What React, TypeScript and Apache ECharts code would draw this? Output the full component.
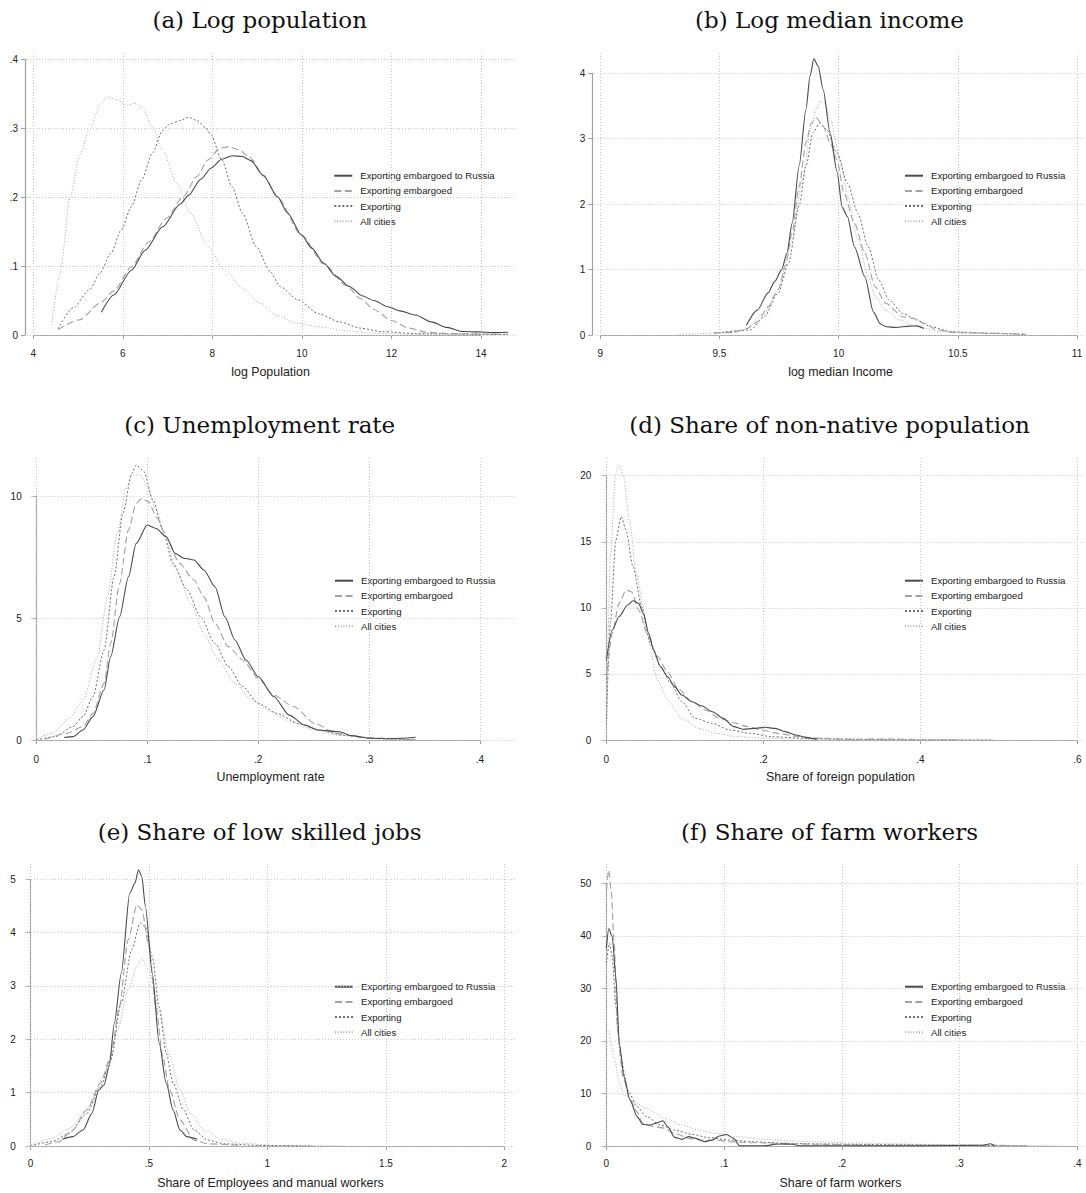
import React, { useEffect, useRef } from "react";
import * as echarts from "echarts";

const SERIES_NAMES = ["Exporting embargoed to Russia", "Exporting embargoed", "Exporting", "All cities"];

// (a) Log population
const popTitle = "(a) Log population";
const popXTitle = "log Population";
const popTicksX = [4, 6, 8, 10, 12, 14];
const popTicksY = [0, 0.1, 0.2, 0.3, 0.4];
const popRussia = [[5.52,0.033],[5.8,0.058],[6.19,0.094],[6.5,0.123],[6.89,0.157],[7.28,0.19],[7.47,0.203],[7.74,0.226],[7.97,0.242],[8.21,0.255],[8.44,0.26],[8.67,0.259],[8.86,0.253],[9.14,0.231],[9.45,0.201],[9.68,0.177],[9.99,0.145],[10.22,0.126],[10.49,0.104],[10.76,0.085],[11.07,0.07],[11.34,0.057],[11.61,0.05],[11.92,0.041],[12.19,0.035],[12.54,0.029],[12.89,0.019],[13.24,0.011],[13.59,0.005],[13.94,0.0045],[14.25,0.0035],[14.6,0.004]];
const popEmb = [[4.55,0.008],[5.03,0.022],[5.49,0.046],[5.8,0.064],[6.19,0.099],[6.58,0.135],[6.97,0.169],[7.35,0.201],[7.66,0.23],[7.9,0.254],[8.17,0.271],[8.36,0.273],[8.59,0.269],[8.83,0.258],[9.14,0.232],[9.45,0.2],[9.99,0.145],[10.49,0.103],[10.99,0.072],[11.3,0.053],[11.61,0.037],[12.0,0.021],[12.39,0.01],[12.78,0.004],[13.32,0.002],[14.6,0.001]];
const popExp = [[4.55,0.009],[4.9,0.04],[5.26,0.066],[5.49,0.09],[5.73,0.118],[5.96,0.152],[6.19,0.186],[6.42,0.225],[6.66,0.264],[6.89,0.297],[7.04,0.306],[7.28,0.311],[7.47,0.316],[7.66,0.311],[7.86,0.3],[7.97,0.29],[8.21,0.254],[8.44,0.215],[8.67,0.177],[8.98,0.128],[9.29,0.092],[9.52,0.07],[9.91,0.051],[10.37,0.031],[10.84,0.019],[11.3,0.01],[11.77,0.005],[12.54,0.002],[14.6,0.0005]];
const popAll = [[4.41,0.015],[4.6,0.09],[4.82,0.2],[5.04,0.262],[5.27,0.3],[5.49,0.334],[5.66,0.346],[5.88,0.341],[6.08,0.333],[6.27,0.336],[6.42,0.331],[6.66,0.302],[6.89,0.268],[7.2,0.22],[7.51,0.177],[7.9,0.128],[8.28,0.094],[8.67,0.068],[9.06,0.046],[9.45,0.028],[9.91,0.017],[10.37,0.012],[10.99,0.006],[11.61,0.0024],[12.54,0.001],[14.6,0.0005]];

// (b) Log median income
const incTitle = "(b) Log median income";
const incXTitle = "log median Income";
const incTicksX = [9, 9.5, 10, 10.5, 11];
const incTicksY = [0, 1, 2, 3, 4];
const incRussia = [[9.613,0.15],[9.659,0.38],[9.703,0.64],[9.732,0.82],[9.761,1.0],[9.783,1.25],[9.805,1.71],[9.834,2.58],[9.863,3.45],[9.88,3.96],[9.896,4.22],[9.914,4.11],[9.935,3.75],[9.964,3.09],[9.993,2.5],[10.015,1.95],[10.037,1.81],[10.066,1.35],[10.11,0.89],[10.146,0.35],[10.175,0.17],[10.2,0.125],[10.24,0.115],[10.298,0.135],[10.328,0.14],[10.357,0.1]];
const incEmb = [[9.478,0.036],[9.558,0.036],[9.616,0.1],[9.659,0.2],[9.703,0.43],[9.746,0.69],[9.776,1.05],[9.805,1.56],[9.834,2.27],[9.863,2.94],[9.885,3.24],[9.906,3.32],[9.935,3.19],[9.964,2.94],[9.993,2.68],[10.022,2.17],[10.066,1.71],[10.11,1.25],[10.153,0.74],[10.197,0.485],[10.269,0.28],[10.313,0.255],[10.357,0.18],[10.415,0.077],[10.487,0.036],[10.647,0.026],[10.785,0.01]];
const incExp = [[9.478,0.026],[9.63,0.077],[9.688,0.28],[9.746,0.64],[9.79,1.1],[9.834,1.97],[9.863,2.58],[9.892,3.09],[9.921,3.24],[9.95,3.14],[9.993,2.78],[10.037,2.32],[10.081,1.86],[10.124,1.35],[10.168,0.84],[10.211,0.54],[10.269,0.33],[10.328,0.23],[10.386,0.128],[10.473,0.05],[10.647,0.026],[10.785,0.01]];
const incAll = [[9.325,0.01],[9.485,0.026],[9.601,0.077],[9.688,0.33],[9.746,0.69],[9.805,1.46],[9.848,2.38],[9.885,3.19],[9.906,3.45],[9.921,3.57],[9.943,3.55],[9.964,3.3],[10.008,2.68],[10.037,2.12],[10.081,1.46],[10.124,0.89],[10.153,0.59],[10.197,0.38],[10.255,0.23],[10.328,0.128],[10.429,0.05],[10.574,0.026],[10.785,0.01]];

// (c) Unemployment rate
const unTitle = "(c) Unemployment rate";
const unXTitle = "Unemployment rate";
const unTicksX = [0, 0.1, 0.2, 0.3, 0.4];
const unTicksY = [0, 5, 10];
const unRussia = [[0.025,0.1],[0.033,0.14],[0.042,0.41],[0.051,0.96],[0.061,2.05],[0.067,3.42],[0.075,5.05],[0.083,6.69],[0.09,8.06],[0.1,8.81],[0.108,8.67],[0.117,8.33],[0.125,7.65],[0.133,7.45],[0.142,7.38],[0.151,6.97],[0.161,6.28],[0.17,5.05],[0.179,4.1],[0.189,3.28],[0.2,2.6],[0.214,1.78],[0.228,1.02],[0.242,0.61],[0.254,0.41],[0.273,0.34],[0.284,0.18],[0.301,0.07],[0.32,0.05],[0.342,0.11]];
const unEmb = [[0.008,0.03],[0.027,0.27],[0.042,0.55],[0.051,1.09],[0.061,2.32],[0.067,3.96],[0.075,6.42],[0.083,8.61],[0.09,9.7],[0.095,9.9],[0.101,9.77],[0.109,9.08],[0.117,8.33],[0.129,7.24],[0.142,6.56],[0.151,5.87],[0.161,4.78],[0.173,3.83],[0.186,3.28],[0.2,2.53],[0.214,1.84],[0.232,1.37],[0.251,0.68],[0.27,0.27],[0.295,0.1],[0.342,0.01]];
const unExp = [[0,0],[0.017,0.14],[0.033,0.55],[0.042,0.96],[0.051,1.78],[0.061,3.69],[0.07,6.69],[0.078,9.29],[0.086,10.93],[0.09,11.27],[0.097,11.0],[0.105,9.84],[0.114,8.61],[0.123,7.24],[0.136,6.15],[0.148,5.05],[0.161,3.96],[0.173,3.01],[0.186,2.19],[0.2,1.5],[0.217,1.09],[0.236,0.68],[0.254,0.41],[0.279,0.18],[0.31,0.05],[0.342,0.0]];
const unAll = [[0,0.03],[0.014,0.27],[0.03,0.89],[0.042,1.64],[0.055,3.42],[0.064,5.87],[0.073,8.47],[0.081,10.38],[0.087,10.86],[0.094,10.86],[0.1,10.38],[0.108,9.43],[0.117,8.2],[0.126,6.97],[0.139,5.6],[0.151,4.37],[0.164,3.28],[0.179,2.32],[0.195,1.64],[0.211,1.16],[0.229,0.75],[0.248,0.44],[0.273,0.2],[0.304,0.07],[0.342,0.0]];

// (d) Share of non-native population
const forTitle = "(d) Share of non-native population";
const forXTitle = "Share of foreign population";
const forTicksX = [0, 0.2, 0.4, 0.6];
const forTicksY = [0, 5, 10, 15, 20];
const forRussia = [[0,6.05],[0.0075,8.32],[0.016,9.33],[0.027,10.21],[0.034,10.54],[0.041,10.34],[0.047,9.58],[0.054,8.07],[0.06,6.81],[0.069,5.55],[0.078,4.79],[0.087,4.04],[0.096,3.4],[0.109,2.9],[0.122,2.57],[0.135,2.14],[0.149,1.64],[0.162,1.01],[0.175,0.81],[0.188,0.88],[0.202,0.96],[0.215,0.88],[0.228,0.63],[0.241,0.38],[0.255,0.18],[0.268,0.05]];
const forEmb = [[0,4.54],[0.0075,8.07],[0.016,10.34],[0.025,11.35],[0.032,11.22],[0.041,9.84],[0.052,8.07],[0.065,6.31],[0.078,5.17],[0.091,3.91],[0.109,2.9],[0.126,2.27],[0.144,1.64],[0.162,1.31],[0.18,1.01],[0.197,0.76],[0.219,0.5],[0.246,0.25],[0.272,0.13],[0.316,0.05],[0.36,0.08],[0.405,0.02],[0.449,0.0]];
const forExp = [[0,1.26],[0.005,8.83],[0.012,15.13],[0.019,16.9],[0.025,15.89],[0.034,13.11],[0.045,10.09],[0.056,7.31],[0.069,5.55],[0.082,4.29],[0.096,2.9],[0.113,1.64],[0.135,1.26],[0.157,0.76],[0.184,0.5],[0.21,0.25],[0.255,0.13],[0.316,0.05],[0.405,0.0],[0.493,0.0]];
const forAll = [[0,0.25],[0.005,13.87],[0.012,20.18],[0.016,20.81],[0.022,19.92],[0.03,16.39],[0.038,12.61],[0.052,8.07],[0.065,4.54],[0.078,3.03],[0.096,1.64],[0.118,0.88],[0.14,0.5],[0.166,0.25],[0.206,0.13],[0.272,0.05],[0.36,0.0],[0.493,0.0]];

// (e) Share of low skilled jobs
const lowTitle = "(e) Share of low skilled jobs";
const lowXTitle = "Share of Employees and manual workers";
const lowTicksX = [0, 0.5, 1, 1.5, 2];
const lowTicksY = [0, 1, 2, 3, 4, 5];
const lowRussia = [[0.134,0.125],[0.178,0.175],[0.222,0.3],[0.259,0.61],[0.288,1.05],[0.31,1.14],[0.332,1.49],[0.354,2.3],[0.383,3.24],[0.419,4.74],[0.441,4.93],[0.456,5.18],[0.47,5.05],[0.485,4.49],[0.514,3.24],[0.543,1.93],[0.573,1.18],[0.602,0.675],[0.631,0.3],[0.66,0.175],[0.704,0.125]];
const lowEmb = [[0.061,0.02],[0.12,0.08],[0.178,0.3],[0.237,0.675],[0.295,1.18],[0.339,1.68],[0.375,2.61],[0.412,3.86],[0.449,4.52],[0.47,4.43],[0.5,3.74],[0.529,2.61],[0.558,1.68],[0.587,1.05],[0.631,0.49],[0.69,0.11],[0.748,0.04],[0.894,0.01]];
const lowExp = [[0,0],[0.09,0.08],[0.164,0.24],[0.237,0.61],[0.295,1.11],[0.339,1.61],[0.383,2.68],[0.427,3.68],[0.463,4.18],[0.485,4.11],[0.514,3.55],[0.543,2.61],[0.573,1.74],[0.602,1.18],[0.646,0.675],[0.69,0.3],[0.748,0.11],[0.821,0.04],[0.967,0.01],[1.19,0]];
const lowAll = [[0,0.01],[0.09,0.14],[0.164,0.33],[0.237,0.675],[0.31,1.3],[0.368,2.18],[0.412,2.93],[0.449,3.36],[0.47,3.52],[0.5,3.3],[0.543,2.55],[0.587,1.68],[0.631,1.05],[0.675,0.61],[0.733,0.3],[0.806,0.125],[0.894,0.05],[1.04,0.01],[1.33,0]];

// (f) Share of farm workers
const farmTitle = "(f) Share of farm workers";
const farmXTitle = "Share of farm workers";
const farmTicksX = [0, 0.1, 0.2, 0.3, 0.4];
const farmTicksY = [0, 10, 20, 30, 40, 50];
const farmRussia = [[0,37.6],[0.002,41.4],[0.005,39.8],[0.008,32.2],[0.011,19.5],[0.015,13.2],[0.02,8.8],[0.026,5.6],[0.031,4.1],[0.037,4.0],[0.043,4.4],[0.048,4.8],[0.052,3.7],[0.058,1.65],[0.064,1.27],[0.07,1.78],[0.076,1.46],[0.083,0.82],[0.09,1.14],[0.096,1.9],[0.102,2.2],[0.108,1.46],[0.113,0.05],[0.134,0.05],[0.146,0.38],[0.158,0.32],[0.164,0.05],[0.27,0.05],[0.32,0.13],[0.326,0.44],[0.33,0.05]];
const farmEmb = [[0,48.7],[0.002,52.5],[0.004,48.7],[0.0065,39.2],[0.0094,22.1],[0.014,13.2],[0.02,8.8],[0.026,6.5],[0.031,4.3],[0.04,3.7],[0.049,3.4],[0.058,2.4],[0.07,1.46],[0.081,1.14],[0.093,1.14],[0.105,0.82],[0.123,0.63],[0.152,0.5],[0.181,0.32],[0.24,0.13],[0.299,0.13],[0.329,0.13],[0.358,0.0]];
const farmExp = [[0,34.8],[0.0026,38.6],[0.005,36.0],[0.008,26.5],[0.012,17.0],[0.018,10.7],[0.026,7.5],[0.034,5.6],[0.046,4.0],[0.058,3.0],[0.073,2.2],[0.087,1.6],[0.105,1.14],[0.123,0.82],[0.152,0.5],[0.181,0.38],[0.24,0.25],[0.299,0.13],[0.358,0.0]];
const farmAll = [[0,22.1],[0.002,21.8],[0.0065,17.0],[0.011,11.9],[0.015,9.7],[0.023,8.4],[0.034,7.2],[0.049,5.3],[0.064,4.0],[0.079,3.0],[0.093,2.4],[0.111,1.78],[0.134,1.27],[0.158,0.95],[0.181,0.76],[0.211,0.57],[0.24,0.44],[0.27,0.32],[0.299,0.25],[0.329,0.13],[0.358,0.06],[0.388,0.0]];

const PANELS = [
  { title: popTitle, xTitle: popXTitle, xTicks: popTicksX, yTicks: popTicksY, data: [popRussia, popEmb, popExp, popAll] },
  { title: incTitle, xTitle: incXTitle, xTicks: incTicksX, yTicks: incTicksY, data: [incRussia, incEmb, incExp, incAll] },
  { title: unTitle, xTitle: unXTitle, xTicks: unTicksX, yTicks: unTicksY, data: [unRussia, unEmb, unExp, unAll] },
  { title: forTitle, xTitle: forXTitle, xTicks: forTicksX, yTicks: forTicksY, data: [forRussia, forEmb, forExp, forAll] },
  { title: lowTitle, xTitle: lowXTitle, xTicks: lowTicksX, yTicks: lowTicksY, data: [lowRussia, lowEmb, lowExp, lowAll] },
  { title: farmTitle, xTitle: farmXTitle, xTicks: farmTicksX, yTicks: farmTicksY, data: [farmRussia, farmEmb, farmExp, farmAll] },
];

// layout (pixels): px = pixel x of first/last x tick, py = pixel y of first/last y tick
const LAYOUT = [
  { px: [33.3, 481], py: [335, 59.3], yAxisX: 25, xAxisY: 343.3, pr: 515, pt: 51.7, title: [259.7, 20], xTitle: [270.5, 371.7], legend: [333.3, 170.7] },
  { px: [600.3, 1077], py: [335, 73.3], yAxisX: 592.3, xAxisY: 343.3, pr: 1084, pt: 52, title: [829.5, 20], xTitle: [840.5, 371.7], legend: [904, 170.7] },
  { px: [36.4, 480], py: [740, 496], yAxisX: 28.7, xAxisY: 749, pr: 515, pt: 458.3, title: [259.7, 425], xTitle: [270.5, 776.7], legend: [334, 575.7] },
  { px: [606.4, 1077.3], py: [740, 475.7], yAxisX: 598.4, xAxisY: 749, pr: 1084, pt: 458.3, title: [829.5, 425], xTitle: [840.5, 776.7], legend: [904, 575.7] },
  { px: [30.5, 504.3], py: [1146, 879.3], yAxisX: 22.9, xAxisY: 1153.3, pr: 515, pt: 862.7, title: [259.7, 831.7], xTitle: [270.5, 1182.7], legend: [334, 981.7] },
  { px: [606.4, 1077.3], py: [1146, 883.3], yAxisX: 598.4, xAxisY: 1153.3, pr: 1084, pt: 862.7, title: [829.5, 831.7], xTitle: [840.5, 1182.7], legend: [904, 981.7] },
];

const LINE_STYLES: any[] = [
  { color: "#4a4a4a", width: 1.1, type: "solid" },
  { color: "#a2a2a2", width: 1.1, type: [7, 3.5] },
  { color: "#6e6e6e", width: 1, type: [2, 2] },
  { color: "#acacac", width: 1, type: [1, 1.8] },
];

const SANS = '"Liberation Sans", Arial, sans-serif';
const SERIF = '"DejaVu Serif", serif';
const AXIS_COLOR = "#a0a0a0";
const GRID_COLOR = "#c8c8c8";

function fmt(v: number): string {
  let s = String(Number(v.toFixed(6)));
  if (s.startsWith("0.")) s = s.slice(1);
  if (s.startsWith("-0.")) s = "-" + s.slice(2);
  return s;
}

function buildOption() {
  const grid: any[] = [];
  const xAxis: any[] = [];
  const yAxis: any[] = [];
  const series: any[] = [];
  const legend: any[] = [];
  const graphic: any[] = [];

  PANELS.forEach((p, i) => {
    const L = LAYOUT[i];
    const x0 = p.xTicks[0];
    const x1 = p.xTicks[p.xTicks.length - 1];
    const y0 = p.yTicks[0];
    const y1 = p.yTicks[p.yTicks.length - 1];
    const sx = (x1 - x0) / (L.px[1] - L.px[0]);
    const sy = (y1 - y0) / (L.py[0] - L.py[1]);
    const pl = L.yAxisX + 2;
    const pb = L.py[0] + 1;
    const xmin = x0 + (pl - L.px[0]) * sx;
    const xmax = x0 + (L.pr - L.px[0]) * sx;
    const ymin = y0 - (pb - L.py[0]) * sy;
    const ymax = y0 + (L.py[0] - L.pt) * sy;

    grid.push({ left: pl, top: L.pt, width: L.pr - pl, height: pb - L.pt });
    grid.push({ left: L.px[0], top: L.py[1], width: L.px[1] - L.px[0], height: L.py[0] - L.py[1] });

    xAxis.push({ type: "value", gridIndex: 2 * i, min: xmin, max: xmax, show: false });
    yAxis.push({ type: "value", gridIndex: 2 * i, min: ymin, max: ymax, show: false });

    xAxis.push({
      type: "value", gridIndex: 2 * i + 1, min: x0, max: x1, interval: p.xTicks[1] - p.xTicks[0],
      offset: L.xAxisY - L.py[0],
      axisLine: { show: true, lineStyle: { color: AXIS_COLOR, width: 1.2 } },
      axisTick: { show: true, length: 4, inside: false, lineStyle: { color: AXIS_COLOR, width: 1 } },
      axisLabel: { show: true, formatter: fmt, margin: 5, fontSize: 10, color: "#222", fontFamily: SANS, showMinLabel: true, showMaxLabel: true },
      splitLine: { show: false },
    });
    yAxis.push({
      type: "value", gridIndex: 2 * i + 1, min: y0, max: y1, interval: p.yTicks[1] - p.yTicks[0],
      offset: L.px[0] - L.yAxisX,
      axisLine: { show: true, lineStyle: { color: AXIS_COLOR, width: 1.2 } },
      axisTick: { show: true, length: 4, inside: false, lineStyle: { color: AXIS_COLOR, width: 1 } },
      axisLabel: { show: true, formatter: fmt, margin: 7, fontSize: 10, color: "#222", fontFamily: SANS, showMinLabel: true, showMaxLabel: true },
      splitLine: { show: false },
    });

    series.push({
      type: "line", name: "gridlines-" + i, xAxisIndex: 2 * i, yAxisIndex: 2 * i,
      data: [[x0, y0]], symbol: "none", lineStyle: { width: 0 }, z: 1, silent: true,
      markLine: {
        silent: true, symbol: ["none", "none"], label: { show: false }, animation: false,
        lineStyle: { color: GRID_COLOR, type: [1, 2], width: 1 },
        emphasis: { disabled: true },
        data: [...p.xTicks.map((v) => ({ xAxis: v })), ...p.yTicks.map((v) => ({ yAxis: v }))],
      },
    });
    series.push({ type: "line", name: "axes-" + i, xAxisIndex: 2 * i + 1, yAxisIndex: 2 * i + 1, data: [], symbol: "none", silent: true });

    for (let k = 3; k >= 0; k--) {
      series.push({
        type: "line", name: SERIES_NAMES[k], xAxisIndex: 2 * i, yAxisIndex: 2 * i,
        data: p.data[k], symbol: "none", showSymbol: false, smooth: 0.25, smoothMonotone: "x",
        lineStyle: LINE_STYLES[k], itemStyle: { color: LINE_STYLES[k].color }, z: 3 + (3 - k), silent: true,
        emphasis: { disabled: true },
      });
    }

    legend.push({
      data: SERIES_NAMES, left: L.legend[0], top: L.legend[1], orient: "vertical",
      itemWidth: 18, itemHeight: 10, itemGap: 5.2, padding: 0, selectedMode: false,
      itemStyle: { opacity: 0, borderWidth: 0 },
      textStyle: { fontSize: 9.6, color: "#222", fontFamily: SANS, lineHeight: 10, padding: [0, 0, 0, 3] },
    });

    graphic.push({
      type: "text", x: L.title[0], y: L.title[1], silent: true,
      style: { text: p.title, fontSize: 23, fontFamily: SERIF, fill: "#111", align: "center", verticalAlign: "middle", textAlign: "center", textVerticalAlign: "middle" },
    });
    graphic.push({
      type: "text", x: L.xTitle[0], y: L.xTitle[1], silent: true,
      style: { text: p.xTitle, fontSize: 12.4, fontFamily: SANS, fill: "#222", align: "center", verticalAlign: "middle", textAlign: "center", textVerticalAlign: "middle" },
    });
  });

  return { animation: false, backgroundColor: "#ffffff", grid, xAxis, yAxis, series, legend, graphic };
}

export default function App() {
  const ref = useRef<HTMLDivElement>(null);
  useEffect(() => {
    if (!ref.current) return;
    const chart = echarts.init(ref.current, undefined, { renderer: "svg" });
    chart.setOption(buildOption() as any);
    return () => chart.dispose();
  }, []);
  return <div ref={ref} style={{ position: "fixed", left: 0, top: 0, width: 1086, height: 1193, background: "#fff" }} />;
}
